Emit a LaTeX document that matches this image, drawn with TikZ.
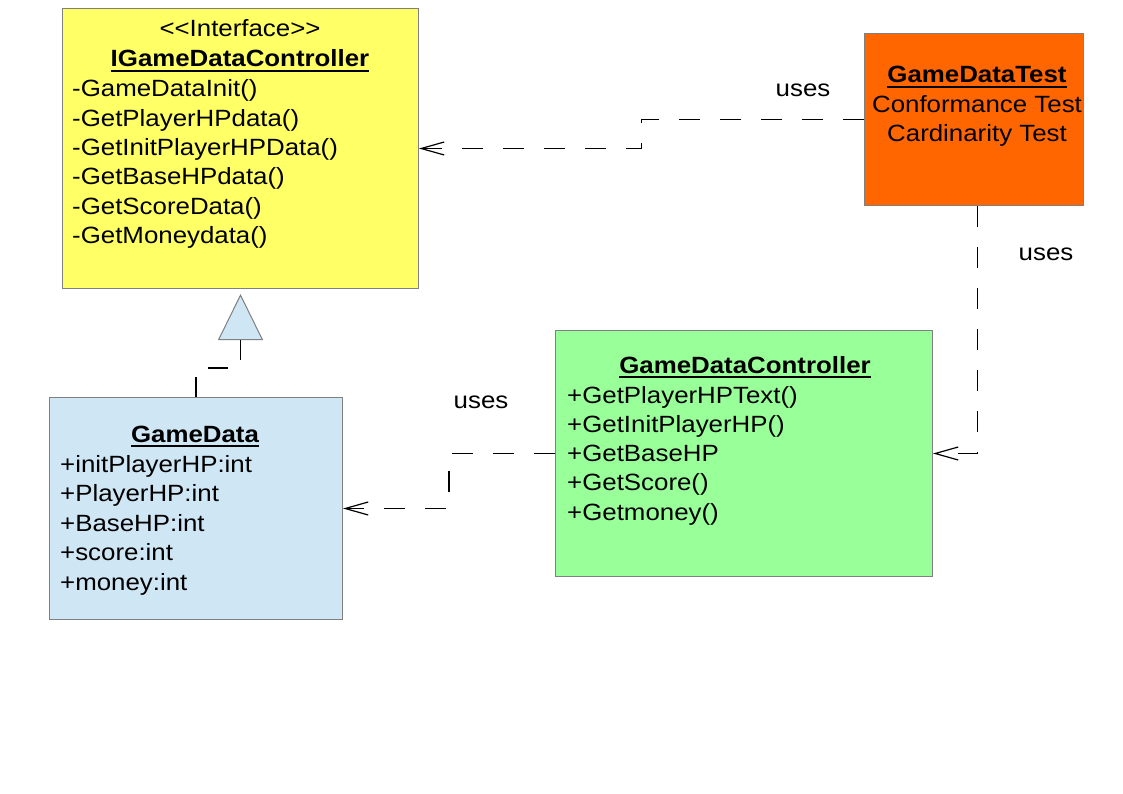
\documentclass[tikz,border=0pt]{standalone}
\usepackage{fontspec}
\setmainfont[FakeStretch=1.1]{Liberation Sans}
\newfontfamily\plainfont[FakeStretch=1.1]{Liberation Sans}
\usetikzlibrary{arrows.meta,calc}
\definecolor{ifyellow}{HTML}{FFFF66}
\definecolor{testorange}{HTML}{FF6600}
\definecolor{ctrlgreen}{HTML}{99FF99}
\definecolor{gdblue}{HTML}{CFE6F4}
\definecolor{boxgray}{HTML}{808080}
\newcommand\myul[1]{\sbox0{#1}\rlap{\rule[-5pt]{\wd0}{2pt}}\usebox0}
\begin{document}
\begin{tikzpicture}[x=1pt,y=-1pt,
  box/.style={draw=boxgray, line width=1pt, rectangle, inner sep=0pt, anchor=north west},
  txt/.style={inner sep=0pt, font=\fontsize{23.5}{29.3}\selectfont, text=black},
  member/.style={txt, anchor=base west},
  ctitle/.style={txt, anchor=base},
  uses/.style={line width=1.2pt, dash pattern=on 21pt off 20pt,
    -{Straight Barb[length=23pt,width=13pt,line width=1.2pt]}},
  realize/.style={line width=1.2pt, dash pattern=on 20pt off 21pt,
    -{Triangle[length=46pt,width=45pt,color=boxgray,fill=gdblue,line width=1pt]}}
]
\useasboundingbox[fill=white] (0,0) rectangle (1123,794);

% boxes
\node[box, fill=ifyellow, minimum width=356pt, minimum height=280pt] (iface) at (62,8) {};
\node[box, fill=testorange, minimum width=219pt, minimum height=172pt] (test) at (864,33) {};
\node[box, fill=ctrlgreen, minimum width=377pt, minimum height=246pt] (ctrl) at (555,330) {};
\node[box, fill=gdblue, minimum width=293pt, minimum height=222pt] (gd) at (49,397) {};

% connectors
\coordinate (c1) at ($(test.west)!0.5!(iface.east)$);
\draw[uses] (test.west) -| (c1) |- (iface.east);
\coordinate (c2) at ([xshift=3.5pt]test.south);
\draw[uses] (c2) |- (ctrl.east);
\coordinate (c3) at ($(ctrl.west)!0.5!(gd.east)$);
\draw[uses] (ctrl.west) -| (c3) |- (gd.east);
\coordinate (rtip) at ([yshift=-5pt]iface.south);
\draw[realize] (gd.north) -- ++(0,-29) -| (rtip);

% labels
\node[ctitle] (u1) at (803,97) {uses};
\node[ctitle] (u2) at (1046,260) {uses};
\node[ctitle] (u3) at (481,408) {uses};

% interface text
\node[ctitle] (ifst) at (240,37) {\plainfont <<Interface>>};
\node[ctitle] (ift) at (240,67) {\myul{\bfseries IGameDataController}};
\foreach \t [count=\i from 0] in {-GameDataInit(),-GetPlayerHPdata(),-GetInitPlayerHPData(),-GetBaseHPdata(),-GetScoreData(),-GetMoneydata()}
  \node[member] (ifm\i) at (72,97+29.3*\i) {\t};

% test text
\node[ctitle] (tt) at (977,83) {\myul{\bfseries GameDataTest}};
\node[ctitle] (tl1) at (977,113) {Conformance Test};
\node[ctitle] (tl2) at (977,142) {Cardinarity Test};

% controller text
\node[ctitle] (ct) at (745,373) {\myul{\bfseries GameDataController}};
\foreach \t [count=\i from 0] in {+GetPlayerHPText(),+GetInitPlayerHP(),+GetBaseHP,+GetScore(),+Getmoney()}
  \node[member] (cm\i) at (567,403+29.3*\i) {\t};

% game data text
\node[ctitle] (gt) at (195,442) {\myul{\bfseries GameData}};
\foreach \t [count=\i from 0] in {+initPlayerHP:int,+PlayerHP:int,+BaseHP:int,+score:int,+money:int}
  \node[member] (gm\i) at (60,472+29.5*\i) {\t};
\end{tikzpicture}
\end{document}
